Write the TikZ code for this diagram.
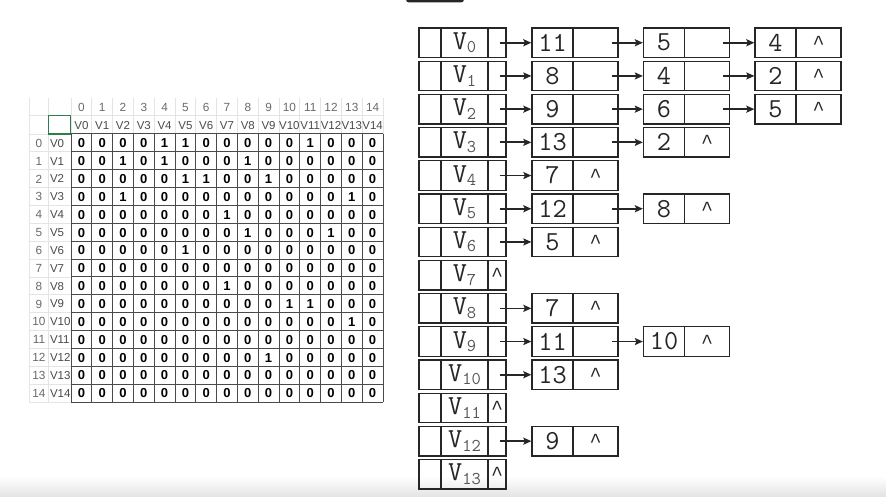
\documentclass[tikz,border=0pt]{standalone}
\usepackage{fontspec}
\setmainfont{Liberation Sans}
\newfontfamily\caretfont{Liberation Mono}
\usetikzlibrary{arrows.meta}
\definecolor{lineC}{HTML}{262626}
\definecolor{txtC}{HTML}{262626}
\definecolor{subC}{HTML}{555555}
\definecolor{gridC}{HTML}{4A4A4A}
\definecolor{faintC}{HTML}{E4E4E4}
\definecolor{xlGreen}{HTML}{2E7D4F}
\definecolor{idxC}{HTML}{6A6A6A}
\definecolor{lblC}{HTML}{4A4A4A}
\newcommand{\vlab}[1]{V\raisebox{-3.5pt}{\fontsize{18}{18}\selectfont\color{subC}#1}}
\newcommand{\nilp}{\raisebox{-3pt}{\caretfont\fontsize{20}{20}\selectfont\textasciicircum}}
\tikzset{
  cell/.style={draw=lineC, line width=1.3pt, inner sep=0pt, minimum height=29.5pt,
    text=txtC, font=\fontsize{27.5}{27.5}\selectfont\ttfamily},
  arr/.style={draw=lineC, line width=1.7pt, -{Stealth[length=8pt,width=7pt,inset=1.5pt]}},
  val/.style={inner sep=0pt, font=\fontsize{13}{13}\selectfont\bfseries, text=black},
  idx/.style={inner sep=0pt, font=\fontsize{11.8}{11.8}\selectfont, text=idxC},
  lbl/.style={inner sep=0pt, font=\fontsize{11.5}{11.5}\selectfont, text=lblC},
  faint/.style={draw=faintC, line width=0.8pt},
  grid line/.style={draw=gridC, line width=1pt}
}
\newcommand{\headrow}[2]{%
  \pgfmathsetmacro\cy{42.75+33.2*#1}
  \node[cell,minimum width=22pt] (h#1a) at (430,\cy) {};
  \node[cell,minimum width=47pt] (h#1b) at (464.5,\cy) {\vlab{#1}};
  \node[cell,minimum width=18pt] (h#1c) at (497,\cy) {#2};
}
\newcommand{\lnode}[4]{%
  \pgfmathsetmacro\cy{42.75+33.2*#1}
  \pgfmathsetmacro\cx{532+111.5*(#2-1)}
  \node[cell,minimum width=41pt] (n#1-#2a) at (\cx+20.5,\cy) {#3};
  \node[cell,minimum width=45pt] (n#1-#2b) at (\cx+63.5,\cy) {#4};
}
\newcommand{\hlink}[1]{\draw[arr] ([xshift=-7pt]h#1c.east) -- (n#1-1a.west);}
\newcommand{\nlink}[3]{\draw[arr] ([xshift=-7pt]n#1-#2b.east) -- (n#1-#3a.west);}
\begin{document}
\begin{tikzpicture}[x=1pt,y=-1pt]
\useasboundingbox (0,0) rectangle (886,497);
\clip (0,0) rectangle (886,497);
\fill[white] (0,0) rectangle (886,497);
\shade[top color=white, bottom color=black!11] (0,476) rectangle (886,497);
\fill[black!85, rounded corners=3pt] (406,-8) rectangle (464,2.5);

% ---------- spreadsheet ----------
\foreach \c in {0,...,15}{ \draw[faint] ({71+20.8*\c},98) -- ({71+20.8*\c},134); }
\draw[faint] (29,115.7) -- (383,115.7);
\draw[faint] (29,98) -- (29,403);
\draw[faint] (48.5,98) -- (48.5,403);
\foreach \r in {0,...,15}{ \draw[faint] (29,{134+17.87*\r}) -- (71,{134+17.87*\r}); }
\draw[xlGreen, line width=1.2pt] (48.5,115.7) rectangle (70.7,134);

\foreach \c in {0,...,15}{ \draw[grid line] ({71+20.8*\c},134) -- ({71+20.8*\c},402.05); }
\foreach \r in {0,...,15}{ \draw[grid line] (71,{134+17.87*\r}) -- (383,{134+17.87*\r}); }

\foreach \c in {0,...,14}{
  \node[idx] (ci\c) at ({81.4+20.8*\c},107.5) {\c};
  \node[lbl] (cv\c) at ({81.4+20.8*\c},125.3) {V\c};
}
\foreach \r/\row in {
  0/{0,0,0,0,1,1,0,0,0,0,0,1,0,0,0},
  1/{0,0,1,0,1,0,0,0,1,0,0,0,0,0,0},
  2/{0,0,0,0,0,1,1,0,0,1,0,0,0,0,0},
  3/{0,0,1,0,0,0,0,0,0,0,0,0,0,1,0},
  4/{0,0,0,0,0,0,0,1,0,0,0,0,0,0,0},
  5/{0,0,0,0,0,0,0,0,1,0,0,0,1,0,0},
  6/{0,0,0,0,0,1,0,0,0,0,0,0,0,0,0},
  7/{0,0,0,0,0,0,0,0,0,0,0,0,0,0,0},
  8/{0,0,0,0,0,0,0,1,0,0,0,0,0,0,0},
  9/{0,0,0,0,0,0,0,0,0,0,1,1,0,0,0},
  10/{0,0,0,0,0,0,0,0,0,0,0,0,0,1,0},
  11/{0,0,0,0,0,0,0,0,0,0,0,0,0,0,0},
  12/{0,0,0,0,0,0,0,0,0,1,0,0,0,0,0},
  13/{0,0,0,0,0,0,0,0,0,0,0,0,0,0,0},
  14/{0,0,0,0,0,0,0,0,0,0,0,0,0,0,0}}{
  \foreach \v [count=\c from 0] in \row {
    \node[val] (m\r-\c) at ({81.4+20.8*\c},{143.2+17.87*\r}) {\v};
  }
  \node[idx] (rn\r) at (39,{143.2+17.87*\r}) {\r};
  \node[lbl,anchor=west] (rl\r) at (49.8,{143.2+17.87*\r}) {V\r};
}

% ---------- adjacency list ----------
\headrow{0}{}  \lnode{0}{1}{11}{} \lnode{0}{2}{5}{} \lnode{0}{3}{4}{\nilp}
\hlink{0} \nlink{0}{1}{2} \nlink{0}{2}{3}
\headrow{1}{}  \lnode{1}{1}{8}{} \lnode{1}{2}{4}{} \lnode{1}{3}{2}{\nilp}
\hlink{1} \nlink{1}{1}{2} \nlink{1}{2}{3}
\headrow{2}{}  \lnode{2}{1}{9}{} \lnode{2}{2}{6}{} \lnode{2}{3}{5}{\nilp}
\hlink{2} \nlink{2}{1}{2} \nlink{2}{2}{3}
\headrow{3}{}  \lnode{3}{1}{13}{} \lnode{3}{2}{2}{\nilp}
\hlink{3} \nlink{3}{1}{2}
\headrow{4}{}  \lnode{4}{1}{7}{\nilp}
\hlink{4}
\headrow{5}{}  \lnode{5}{1}{12}{} \lnode{5}{2}{8}{\nilp}
\hlink{5} \nlink{5}{1}{2}
\headrow{6}{}  \lnode{6}{1}{5}{\nilp}
\hlink{6}
\headrow{7}{\nilp}
\headrow{8}{}  \lnode{8}{1}{7}{\nilp}
\hlink{8}
\headrow{9}{}  \lnode{9}{1}{11}{} \lnode{9}{2}{10}{\nilp}
\hlink{9} \nlink{9}{1}{2}
\headrow{10}{} \lnode{10}{1}{13}{\nilp}
\hlink{10}
\headrow{11}{\nilp}
\headrow{12}{} \lnode{12}{1}{9}{\nilp}
\hlink{12}
\headrow{13}{\nilp}
\end{tikzpicture}
\end{document}
